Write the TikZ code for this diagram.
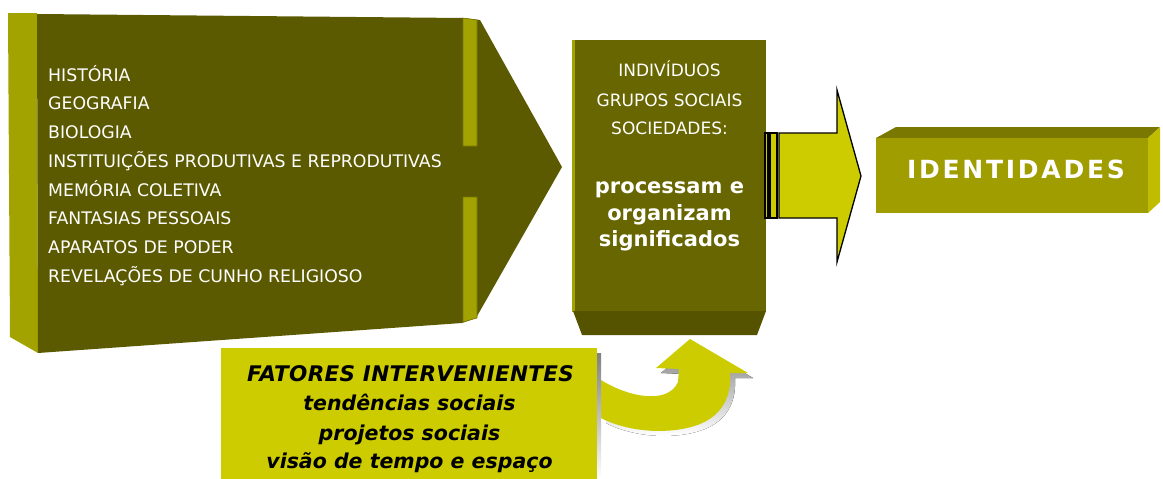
\documentclass[tikz,border=0pt]{standalone}
\usepackage{fontspec}
\setmainfont{DejaVu Sans}
\definecolor{oliveFront}{RGB}{92,90,0}
\definecolor{oliveSide}{RGB}{162,162,0}
\definecolor{oliveEdge}{RGB}{120,118,0}
\definecolor{midFront}{RGB}{104,102,0}
\definecolor{midBottom}{RGB}{85,82,0}
\definecolor{idFront}{RGB}{160,157,0}
\definecolor{idTop}{RGB}{122,120,0}
\definecolor{idRight}{RGB}{192,188,0}
\definecolor{yel}{RGB}{204,204,0}
\definecolor{shade}{RGB}{125,125,125}
\begin{document}
\begin{tikzpicture}[x=1pt,y=-1pt,
  lst/.style={anchor=base west,inner sep=0pt,text=white,font=\fontsize{17.3}{20}\selectfont},
  midtxt/.style={anchor=base,inner sep=0pt,text=white,font=\fontsize{17}{20}\selectfont},
  midbold/.style={anchor=base,inner sep=0pt,text=white,font=\fontsize{21}{24}\selectfont\bfseries},
  fattxt/.style={anchor=base,inner sep=0pt,text=black,font=\fontsize{20.5}{24}\selectfont\bfseries\itshape},
  strip/.style={fill=oliveSide,draw=oliveEdge,line width=0.6pt},
  blockarrow/.style={fill=yel,draw=black,line width=1.3pt,line join=miter}
]
\useasboundingbox (0,0) rectangle (1163,479);

% ---------- left big block arrow ----------
\fill[oliveSide] (8,13) -- (37,13) -- (38,353) -- (10,337) -- cycle;
\fill[oliveFront] (37,14) -- (463,18) -- (480,20) -- (562,167) -- (476,318) -- (462,323) -- (38,353) -- cycle;
\draw[strip] (463,18) -- (477,20) -- (477,146) -- (463,146) -- cycle;
\draw[strip] (463,197) -- (477,197) -- (477,318) -- (463,322) -- cycle;
\foreach \t [count=\i] in {HISTÓRIA,GEOGRAFIA,BIOLOGIA,INSTITUIÇÕES PRODUTIVAS E REPRODUTIVAS,MEMÓRIA COLETIVA,FANTASIAS PESSOAIS,APARATOS DE PODER,REVELAÇÕES DE CUNHO RELIGIOSO}
  \node[lst] (l\i) at (48,{81+(\i-1)*28.75}) {\t};

% ---------- middle block ----------
\fill[oliveSide] (572,40) rectangle (576,312);
\fill[midFront] (575,40) rectangle (766,312);
\fill[midBottom] (573,311) -- (766,311) -- (757,335) -- (582,335) -- cycle;
\node[midtxt] (m1) at (669.5,76.7) {INDIVÍDUOS};
\node[midtxt] (m2) at (669.5,106) {GRUPOS SOCIAIS};
\node[midtxt] (m3) at (669.5,134) {SOCIEDADES:};
\node[midbold] (b1) at (669.5,193.3) {processam e};
\node[midbold] (b2) at (669.5,220) {organizam};
\node[midbold] (b3) at (669.5,246.7) {significados};

% ---------- yellow block arrow ----------
\draw[blockarrow] (765,133) rectangle (768,218);
\draw[blockarrow] (770,133) rectangle (777,218);
\draw[blockarrow] (779,133) -- (837,133) -- (837,90) -- (861,176) -- (837,262) -- (837,218) -- (779,218) -- cycle;

% ---------- IDENTIDADES ----------
\fill[idTop] (876,138) -- (896,127) -- (1160,127) -- (1148,138) -- cycle;
\fill[idRight] (1148,138) -- (1160,127) -- (1160,202) -- (1148,213) -- cycle;
\fill[idFront] (876,138) rectangle (1148,213);
\node[anchor=base,inner sep=0pt,text=white,font=\fontsize{25}{28}\selectfont\bfseries\addfontfeature{LetterSpace=11}] (id) at (1016,178) {IDENTIDADES};

% ---------- curved arrow ----------
\fill[shade,shift={(5,5)}] (601,380) .. controls (628,397) and (668,405) .. (678,382) -- (679,369) -- (656,368) -- (690,339) -- (748,373) -- (730,373) .. controls (732,405) and (715,430) .. (660,431) .. controls (635,431) and (614,425) .. (601,418) -- cycle;
\fill[yel] (601,380) .. controls (628,397) and (668,405) .. (678,382) -- (679,369) -- (656,368) -- (690,339) -- (748,373) -- (730,373) .. controls (732,405) and (715,430) .. (660,431) .. controls (635,431) and (614,425) .. (601,418) -- cycle;

% ---------- FATORES box ----------
\fill[shade] (597,353) rectangle (601,479);
\fill[yel] (221,348) rectangle (597,479);
\node[fattxt,font=\fontsize{21.5}{24}\selectfont\bfseries\itshape\addfontfeature{LetterSpace=1.5}] (f1) at (410.5,381.7) {FATORES INTERVENIENTES};
\node[fattxt] (f2) at (409.5,410) {tendências sociais};
\node[fattxt] (f3) at (409.5,440) {projetos sociais};
\node[fattxt] (f4) at (409.5,468) {visão de tempo e espaço};
\end{tikzpicture}
\end{document}
